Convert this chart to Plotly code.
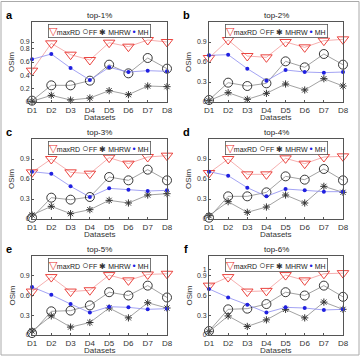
import plotly.graph_objects as go

# ---------------- data ----------------
datasets = ["D1", "D2", "D3", "D4", "D5", "D6", "D7", "D8"]
panel_labels = ["a", "b", "c", "d", "e", "f"]
panel_titles = ["top-1%", "top-2%", "top-3%", "top-4%", "top-5%", "top-6%"]
series_names = ["maxRD", "FF", "MHRW", "MH"]

maxRD_a = [0.47, 0.88, 0.71, 0.63, 0.89, 0.83, 0.93, 0.90]
FF_a    = [0.02, 0.25, 0.25, 0.32, 0.56, 0.43, 0.66, 0.50]
MHRW_a  = [0.01, 0.10, 0.03, 0.06, 0.17, 0.11, 0.24, 0.23]
MH_a    = [0.64, 0.72, 0.51, 0.33, 0.52, 0.45, 0.47, 0.46]

maxRD_b = [0.66, 0.93, 0.69, 0.67, 0.90, 0.82, 0.92, 0.94]
FF_b    = [0.03, 0.29, 0.24, 0.28, 0.61, 0.52, 0.72, 0.56]
MHRW_b  = [0.02, 0.14, 0.04, 0.13, 0.27, 0.18, 0.35, 0.24]
MH_b    = [0.70, 0.71, 0.50, 0.32, 0.48, 0.45, 0.44, 0.45]

maxRD_c = [0.70, 0.90, 0.70, 0.68, 0.92, 0.83, 0.93, 0.95]
FF_c    = [0.02, 0.32, 0.29, 0.33, 0.63, 0.58, 0.74, 0.58]
MHRW_c  = [0.06, 0.19, 0.08, 0.14, 0.28, 0.24, 0.36, 0.38]
MH_c    = [0.71, 0.68, 0.49, 0.33, 0.46, 0.44, 0.42, 0.43]

maxRD_d = [0.69, 0.90, 0.67, 0.67, 0.91, 0.83, 0.93, 0.94]
FF_d    = [0.02, 0.34, 0.34, 0.40, 0.64, 0.59, 0.75, 0.58]
MHRW_d  = [0.05, 0.26, 0.10, 0.18, 0.36, 0.24, 0.49, 0.40]
MH_d    = [0.71, 0.65, 0.47, 0.34, 0.45, 0.43, 0.41, 0.41]

maxRD_e = [0.66, 0.88, 0.66, 0.68, 0.91, 0.83, 0.92, 0.93]
FF_e    = [0.03, 0.36, 0.37, 0.45, 0.65, 0.60, 0.75, 0.57]
MHRW_e  = [0.06, 0.29, 0.12, 0.19, 0.41, 0.26, 0.49, 0.41]
MH_e    = [0.73, 0.61, 0.47, 0.34, 0.43, 0.42, 0.39, 0.40]

maxRD_f = [0.75, 0.88, 0.66, 0.67, 0.91, 0.83, 0.93, 0.94]
FF_f    = [0.06, 0.39, 0.40, 0.47, 0.65, 0.60, 0.75, 0.58]
MHRW_f  = [0.05, 0.29, 0.13, 0.23, 0.39, 0.26, 0.50, 0.39]
MH_f    = [0.70, 0.57, 0.46, 0.34, 0.42, 0.41, 0.38, 0.39]

yticks_a = [0, 0.2, 0.4, 0.6, 0.8, 0.9]
yticks_mid = [0, 0.3, 0.6, 0.9]
yticks_f = [0, 0.3, 0.6, 0.9, 1]

panels = [
    (maxRD_a, FF_a, MHRW_a, MH_a, yticks_a),
    (maxRD_b, FF_b, MHRW_b, MH_b, yticks_mid),
    (maxRD_c, FF_c, MHRW_c, MH_c, yticks_mid),
    (maxRD_d, FF_d, MHRW_d, MH_d, yticks_mid),
    (maxRD_e, FF_e, MHRW_e, MH_e, yticks_mid),
    (maxRD_f, FF_f, MHRW_f, MH_f, yticks_f),
]

# ---------------- layout geometry (pixels) ----------------
W, H = 360, 356
col_x = [(32, 167), (209, 343)]
row_y = [(22, 102), (139, 219), (256, 335)]

def px_x(x):
    return x / W

def px_y(y):
    return 1 - y / H

FONT = "Liberation Sans, Arial, Helvetica, sans-serif"
xs = list(range(1, len(datasets) + 1))

styles = [
    dict(line=dict(color="#f39a9a", width=0.8),
         marker=dict(symbol="triangle-down-open", size=10, color="#e8302a", line=dict(width=0.9))),
    dict(line=dict(color="#8a8a8a", width=0.8),
         marker=dict(symbol="circle-open", size=9, color="#222222", line=dict(width=0.9))),
    dict(line=dict(color="#8a8a8a", width=0.8),
         marker=dict(symbol="asterisk-open", size=6, color="#333333", line=dict(width=1))),
    dict(line=dict(color="#8c8cf0", width=0.8),
         marker=dict(symbol="circle", size=4, color="#2020e0")),
]

fig = go.Figure()
layout = dict(
    width=W, height=H,
    margin=dict(l=0, r=0, t=0, b=0),
    paper_bgcolor="white", plot_bgcolor="white",
    showlegend=False,
    font=dict(family=FONT, size=8, color="#333333"),
)
annotations = []

for i, (mr, ff, mhrw, mh, yt) in enumerate(panels):
    r, c = divmod(i, 2)
    x0, x1 = col_x[c]
    y0, y1 = row_y[r]
    sfx = "" if i == 0 else str(i + 1)
    xa, ya = "x" + sfx, "y" + sfx
    for name, vals, st in zip(series_names, [mr, ff, mhrw, mh], styles):
        fig.add_trace(go.Scatter(
            x=xs, y=vals, name=name, mode="lines+markers",
            xaxis=xa, yaxis=ya, cliponaxis=False,
            line=st["line"], marker=st["marker"], showlegend=False,
        ))
    axcommon = dict(showline=True, mirror=True, linecolor="#555555", linewidth=0.8,
                    ticks="inside", ticklen=2.5, tickcolor="#555555", tickwidth=0.7,
                    showgrid=False, zeroline=False, automargin=False)
    layout["xaxis" + sfx] = dict(
        axcommon, domain=[px_x(x0), px_x(x1)], anchor=ya,
        range=[1, len(datasets)], tickmode="array", tickvals=xs, ticktext=datasets,
        tickfont=dict(family=FONT, size=8, color="#333333"),
    )
    layout["yaxis" + sfx] = dict(
        axcommon, domain=[px_y(y1), px_y(y0)], anchor=xa,
        range=[0, 1.2], tickmode="array", tickvals=yt, ticktext=[str(v) for v in yt],
        tickfont=dict(family=FONT, size=7, color="#333333"),
    )
    cx = (x0 + x1) / 2
    # panel letter
    annotations.append(dict(text="<b>%s</b>" % panel_labels[i], xref="paper", yref="paper",
                            x=px_x(x0 - 23), y=px_y(y0 - 7),
                            xanchor="center", yanchor="middle", showarrow=False,
                            font=dict(family=FONT, size=11, color="#000000")))
    # title
    annotations.append(dict(text=panel_titles[i], xref="paper", yref="paper",
                            x=px_x(cx), y=px_y(y0 - 7), xanchor="center", yanchor="middle",
                            showarrow=False, font=dict(family=FONT, size=8, color="#222222")))
    # x title
    annotations.append(dict(text="Datasets", xref="paper", yref="paper",
                            x=px_x(cx), y=px_y(y1 + 15.5), xanchor="center", yanchor="middle",
                            showarrow=False, font=dict(family=FONT, size=8, color="#333333")))
    # y title
    annotations.append(dict(text="OSim", xref="paper", yref="paper", textangle=-90,
                            x=px_x(x0 - 20), y=px_y((y0 + y1) / 2), xanchor="center",
                            yanchor="middle", showarrow=False,
                            font=dict(family=FONT, size=8, color="#333333")))
    # legend box
    leg = ("<span style='color:#e8302a;font-size:11px'>▽</span>maxRD "
           "<span style='color:#222222;font-size:11px'>○</span>FF "
           "<span style='color:#333333;font-size:8px'>✱</span> MHRW "
           "<span style='color:#2020e0;font-size:9px'>•</span> MH ")
    annotations.append(dict(text=leg, xref="paper", yref="paper",
                            x=px_x(cx), y=px_y(y0 + 2), xanchor="center", yanchor="top",
                            showarrow=False, bgcolor="white", bordercolor="#555555",
                            borderwidth=0.8, borderpad=0,
                            font=dict(family=FONT, size=7, color="#222222")))

layout["annotations"] = annotations
layout["shapes"] = [dict(type="rect", xref="paper", yref="paper",
                         x0=px_x(1), x1=px_x(359), y0=px_y(355), y1=px_y(1.5),
                         line=dict(color="#aaaaaa", width=1))]
fig.update_layout(**layout)
fig.write_html("out.html", config={"displayModeBar": False})
